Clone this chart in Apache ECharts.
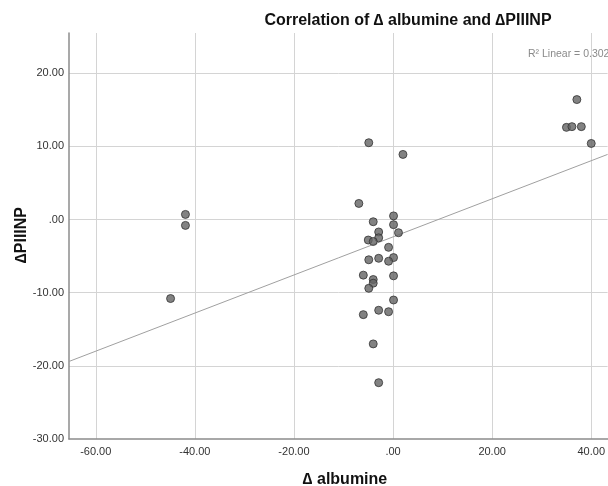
<!DOCTYPE html>
<html>
<head>
<meta charset="utf-8">
<script src="https://cdn.jsdelivr.net/npm/echarts@6/dist/echarts.min.js"></script>
<style>html,body{margin:0;padding:0;background:#fff}#c{width:608px;height:486px}</style>
</head>
<body>
<div id="c"></div>
<script>
// Data
const deltaAlbumine = [-41.9, -41.9, -44.9, -4.9, 2.0, -6.9, 0.1, -4.0, 0.1, -2.9, 1.1, -2.9, -5.0, -4.0, -0.9, -4.9, -2.9, 0.1, -0.9, -6.0, -4.0, -4.0, 0.1, -4.9, 0.1, -2.9, -0.9, -6.0, -4.0, -2.9, 37.1, 35.0, 36.1, 38.0, 40.0];
const deltaPIIINP = [0.7, -0.8, -10.8, 10.5, 8.9, 2.2, 0.5, -0.3, -0.7, -1.7, -1.8, -2.5, -2.8, -3.0, -3.8, -5.5, -5.3, -5.2, -5.7, -7.6, -8.2, -8.7, -7.7, -9.4, -11.0, -12.4, -12.6, -13.0, -17.0, -22.3, 16.4, 12.6, 12.7, 12.7, 10.4];
const fitX = [-65.4, 43.3];
const fitY = [-19.4, 8.9];
const yTicks = [-30, -20, -10, 0, 10, 20];
const xTicks = [-60, -40, -20, 0, 20, 40];
const titleText = 'Correlation of \u2206 albumine and \u2206PIIINP';
const xName = '\u2206 albumine';
const yName = '\u2206PIIINP';
const r2Text = 'R\u00b2 Linear = 0.302';

const fmt = v => {
  const s = Number(v).toFixed(2);
  if (s === '0.00') return '.00';
  return s;
};

const chart = echarts.init(document.getElementById('c'), null, {renderer: 'canvas'});
const font = 'Liberation Sans, Arial, sans-serif';
chart.setOption({
  animation: false,
  backgroundColor: '#fff',
  grid: {left: 69, right: 0, top: 33, bottom: 47, containLabel: false},
  xAxis: {
    type: 'value', min: -65.4, max: 43.3, splitNumber: 5,
    axisLine: {show: true, onZero: false, lineStyle: {color: '#8c8c8c', width: 1.5}},
    axisTick: {show: false},
    axisLabel: {
      margin: 7, color: '#333', fontSize: 11, fontFamily: font,
      showMinLabel: false, showMaxLabel: false,
      formatter: v => (xTicks.indexOf(Math.round(v * 100) / 100) >= 0 ? fmt(v) : '')
    },
    splitLine: {show: true, showMinLine: false, showMaxLine: false, lineStyle: {color: '#d4d4d4', width: 1}}
  },
  yAxis: {
    type: 'value', min: -30, max: 25.5, interval: 10,
    axisLine: {show: true, onZero: false, lineStyle: {color: '#8c8c8c', width: 1.5}},
    axisTick: {show: false},
    axisLabel: {
      margin: 5, color: '#333', fontSize: 11, fontFamily: font,
      showMaxLabel: false,
      formatter: v => (yTicks.indexOf(Math.round(v * 100) / 100) >= 0 ? fmt(v) : '')
    },
    splitLine: {show: true, showMinLine: false, showMaxLine: false, lineStyle: {color: '#d4d4d4', width: 1}}
  },
  series: [
    {
      type: 'line',
      data: fitX.map((x, i) => [x, fitY[i]]),
      showSymbol: false, symbol: 'none',
      lineStyle: {color: '#a0a0a0', width: 1},
      silent: true, z: 2
    },
    {
      type: 'scatter',
      data: deltaAlbumine.map((x, i) => [x, deltaPIIINP[i]]),
      symbol: 'circle', symbolSize: 8,
      itemStyle: {color: '#636363', borderColor: '#333', borderWidth: 1},
      z: 3
    }
  ],
  graphic: [
    {type: 'text', x: 408, y: 21, style: {text: titleText, font: 'bold 16px ' + font, fill: '#111', align: 'center', verticalAlign: 'middle'}},
    {type: 'text', x: 528, y: 54, style: {text: r2Text, font: '10.5px ' + font, fill: '#8a8a8a', align: 'left', verticalAlign: 'middle'}},
    {type: 'text', x: 345, y: 480, style: {text: xName, font: 'bold 16px ' + font, fill: '#111', align: 'center', verticalAlign: 'middle'}},
    {type: 'text', x: 22, y: 235, rotation: Math.PI / 2, style: {text: yName, font: 'bold 16px ' + font, fill: '#111', align: 'center', verticalAlign: 'middle'}}
  ]
});
</script>
</body>
</html>
